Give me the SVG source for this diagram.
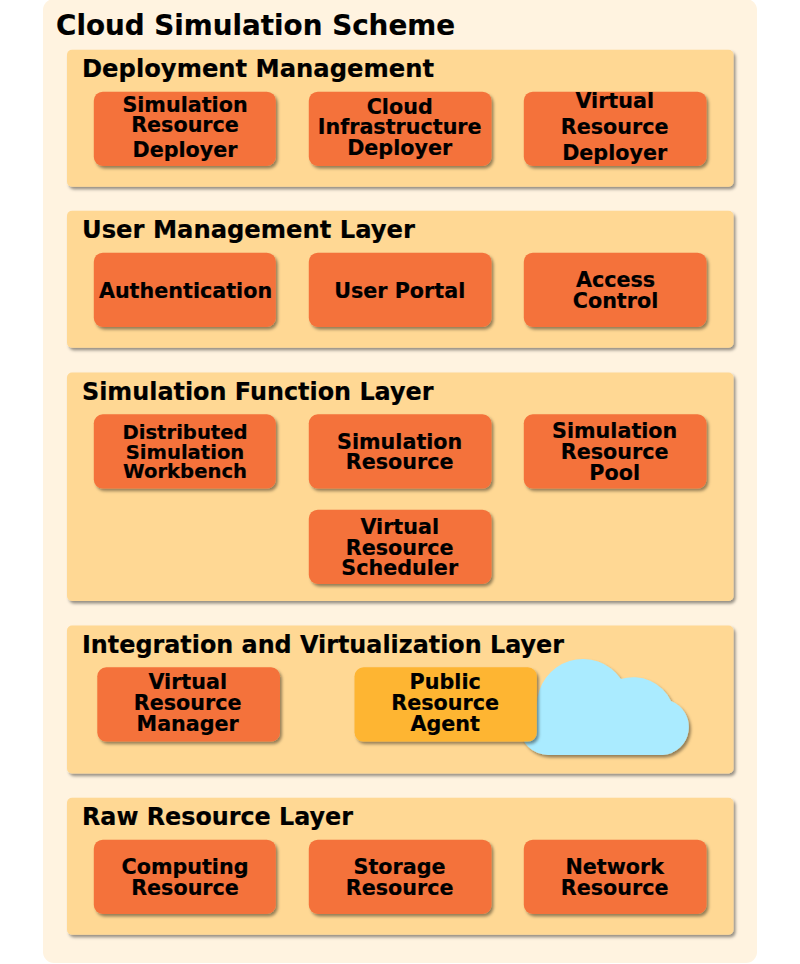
<svg xmlns="http://www.w3.org/2000/svg" width="800" height="964" viewBox="0 0 800 964">
<style>
text{font-family:"DejaVu Sans",sans-serif;font-weight:700;fill:#000;stroke:#000;stroke-width:.2px}
.t{font-size:20.7px;text-anchor:middle}
.u{font-size:19.6px;text-anchor:middle}
.h{font-size:24.5px}
.layer{fill:#ffd894;filter:url(#s)}
.n{fill:#f4723a;filter:url(#s)}
</style>
<defs>
<filter id="s" x="-10%" y="-10%" width="120%" height="120%"><feDropShadow dx="2" dy="2.500" stdDeviation="1.500" flood-color="#000" flood-opacity="0.42"/></filter>
</defs>
<rect id="background" x="43" y="-1" width="714" height="964" rx="11" fill="#fff3e0"/>
<text id="title" x="56" y="35" font-size="27.500" textLength="399" lengthAdjust="spacingAndGlyphs">Cloud Simulation Scheme</text>
<g id="connectors"/>
<g id="deployment-layer"><rect class="layer" x="67" y="49.700" width="666.500" height="137" rx="5"/><text class="h" x="82" y="77" textLength="352" lengthAdjust="spacingAndGlyphs">Deployment Management</text></g>
<g id="user-layer"><rect class="layer" x="67" y="210.700" width="666.500" height="137" rx="5"/><text class="h" x="82" y="238" textLength="333" lengthAdjust="spacingAndGlyphs">User Management Layer</text></g>
<g id="function-layer"><rect class="layer" x="67" y="372.500" width="666.500" height="228.500" rx="5"/><text class="h" x="82" y="399.500" textLength="351.500" lengthAdjust="spacingAndGlyphs">Simulation Function Layer</text></g>
<g id="integration-layer"><rect class="layer" x="67" y="625.500" width="666.500" height="148" rx="5"/><text class="h" x="82" y="653" textLength="482" lengthAdjust="spacingAndGlyphs">Integration and Virtualization Layer</text></g>
<g id="raw-layer"><rect class="layer" x="67" y="797.700" width="666.500" height="137" rx="5"/><text class="h" x="82" y="825" textLength="271" lengthAdjust="spacingAndGlyphs">Raw Resource Layer</text></g>

<g id="simulation-resource-deployer"><rect class="n" x="93.800" y="91.700" width="182" height="74.300" rx="9"/><text class="t" x="185" y="112">Simulation</text><text class="t" x="185" y="132">Resource</text><text class="t" x="185" y="157">Deployer</text></g>
<g id="cloud-infrastructure-deployer"><rect class="n" x="308.800" y="91.700" width="182.700" height="74.300" rx="9"/><text class="t" x="399.700" y="114">Cloud</text><text class="t" x="399.700" y="134">Infrastructure</text><text class="t" x="399.700" y="155">Deployer</text></g>
<g id="virtual-resource-deployer"><rect class="n" x="523.800" y="91.700" width="182.700" height="74.300" rx="9"/><text class="t" x="614.700" y="108">Virtual</text><text class="t" x="614.700" y="134">Resource</text><text class="t" x="614.700" y="160">Deployer</text></g>

<g id="authentication"><rect class="n" x="93.800" y="252.700" width="182" height="74.300" rx="9"/><text class="t" x="185.500" y="298">Authentication</text></g>
<g id="user-portal"><rect class="n" x="308.800" y="252.700" width="182.700" height="74.300" rx="9"/><text class="t" x="399.700" y="298">User Portal</text></g>
<g id="access-control"><rect class="n" x="523.800" y="252.700" width="182.700" height="74.300" rx="9"/><text class="t" x="615.500" y="287">Access</text><text class="t" x="615.500" y="308">Control</text></g>

<g id="distributed-simulation-workbench"><rect class="n" x="93.800" y="414.300" width="182" height="74.300" rx="9"/><text class="u" x="185" y="439">Distributed</text><text class="u" x="185" y="459">Simulation</text><text class="u" x="185" y="478">Workbench</text></g>
<g id="simulation-resource"><rect class="n" x="308.800" y="414.300" width="182.700" height="74.300" rx="9"/><text class="t" x="399.700" y="449">Simulation</text><text class="t" x="399.700" y="469">Resource</text></g>
<g id="simulation-resource-pool"><rect class="n" x="523.800" y="414.300" width="182.700" height="74.300" rx="9"/><text class="t" x="614.700" y="438">Simulation</text><text class="t" x="614.700" y="459">Resource</text><text class="t" x="614.700" y="480">Pool</text></g>
<g id="virtual-resource-scheduler"><rect class="n" x="308.800" y="509.700" width="182.700" height="74.300" rx="9"/><text class="t" x="399.700" y="534">Virtual</text><text class="t" x="399.700" y="555">Resource</text><text class="t" x="399.700" y="575">Scheduler</text></g>

<g id="virtual-resource-manager"><rect class="n" x="97.300" y="667.300" width="182.700" height="74.300" rx="9"/><text class="t" x="187.700" y="689">Virtual</text><text class="t" x="187.700" y="710">Resource</text><text class="t" x="187.700" y="731">Manager</text></g>
<g id="cloud"><path d="M548 755 A28 28 0 0 1 520 727 L537 705 A46 46 0 0 1 621 679 A42 42 0 0 1 671 701 A28 28 0 0 1 663 755 Z" fill="#aaebff" filter="url(#s)"/></g>
<g id="public-resource-agent"><rect x="354.500" y="667.300" width="182.300" height="74.300" rx="9" fill="#feb531" filter="url(#s)"/><text class="t" x="445.200" y="689">Public</text><text class="t" x="445.200" y="710">Resource</text><text class="t" x="445.200" y="731">Agent</text></g>

<g id="computing-resource"><rect class="n" x="93.800" y="839.700" width="182" height="74.300" rx="9"/><text class="t" x="185" y="874">Computing</text><text class="t" x="185" y="895">Resource</text></g>
<g id="storage-resource"><rect class="n" x="308.800" y="839.700" width="182.700" height="74.300" rx="9"/><text class="t" x="399.500" y="874">Storage</text><text class="t" x="399.700" y="895">Resource</text></g>
<g id="network-resource"><rect class="n" x="523.800" y="839.700" width="182.700" height="74.300" rx="9"/><text class="t" x="614.700" y="874">Network</text><text class="t" x="614.700" y="895">Resource</text></g>
</svg>
